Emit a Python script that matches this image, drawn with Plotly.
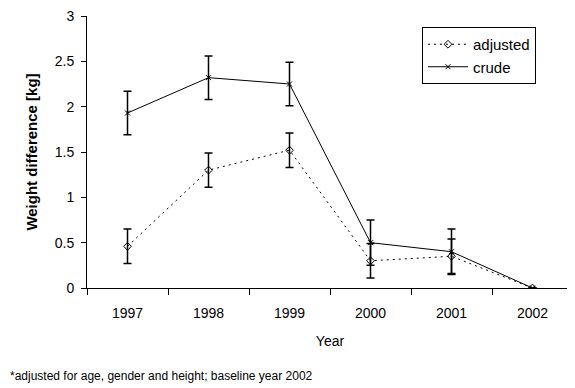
import plotly.graph_objects as go

years = ["1997", "1998", "1999", "2000", "2001", "2002"]
adjusted = [0.46, 1.30, 1.52, 0.30, 0.35, 0.0]
adjusted_err = [0.19, 0.19, 0.19, 0.19, 0.19, 0.0]
crude = [1.93, 2.32, 2.25, 0.50, 0.40, 0.0]
crude_err = [0.24, 0.24, 0.24, 0.25, 0.25, 0.0]
y_tickvals = [0, 0.5, 1, 1.5, 2, 2.5, 3]
y_ticktext = ["0", "0.5", "1", "1.5", "2", "2.5", "3"]

font = "Liberation Sans, Arial, sans-serif"

fig = go.Figure()
fig.add_trace(go.Scatter(
    x=years, y=adjusted, name="adjusted", mode="lines+markers",
    line=dict(color="black", width=1, dash="2px,4px"),
    marker=dict(symbol="diamond-open", size=6, color="black", line=dict(width=1, color="black")),
    error_y=dict(type="data", array=adjusted_err, color="black", thickness=1.5, width=4),
))
fig.add_trace(go.Scatter(
    x=years, y=crude, name="crude", mode="lines+markers",
    line=dict(color="black", width=1),
    marker=dict(symbol="x-thin-open", size=5, color="black", line=dict(width=1, color="black")),
    error_y=dict(type="data", array=crude_err, color="black", thickness=1.5, width=4),
))

# page body has an 8px margin, so the figure is sized to fit the window
PW, PH = 567, 380
L, R, T, B = 79, 2, 8, 100
plot_w = PW - L - R
plot_h = PH - T - B

fig.update_layout(
    width=PW, height=PH,
    margin=dict(l=L, r=R, t=T, b=B, autoexpand=False),
    paper_bgcolor="white", plot_bgcolor="white",
    font=dict(family=font, size=14, color="black"),
    showlegend=True,
    legend=dict(x=(422 - 87) / plot_w, y=(288 - 27) / plot_h, xanchor="left", yanchor="top",
                bordercolor="black", borderwidth=1, bgcolor="white",
                font=dict(size=15), tracegroupgap=0, itemwidth=40),
    xaxis=dict(type="category", range=[-0.5, 5.5], tickson="boundaries",
               ticks="outside", ticklen=6, tickcolor="black", showline=True,
               linecolor="black", linewidth=1, showgrid=False, zeroline=False,
               ticklabelstandoff=12, ticklabeloverflow="allow",
               title=dict(text="Year", font=dict(size=14), standoff=16),
               tickfont=dict(size=14)),
    yaxis=dict(range=[0, 3], tickvals=y_tickvals, ticktext=y_ticktext,
               ticks="outside", ticklen=5,
               tickcolor="black", showline=True, linecolor="black", linewidth=1,
               showgrid=False, zeroline=False, ticklabelstandoff=4,
               ticklabeloverflow="allow",
               title=dict(text="<b>Weight difference [kg]</b>", font=dict(size=15), standoff=13),
               tickfont=dict(size=14)),
    annotations=[dict(text="*adjusted for age, gender and height; baseline year 2002",
                      xref="paper", yref="paper", x=-L / plot_w, y=-88 / plot_h,
                      xanchor="left", yanchor="middle", showarrow=False,
                      font=dict(size=12))],
)

fig.write_html("out.html")
